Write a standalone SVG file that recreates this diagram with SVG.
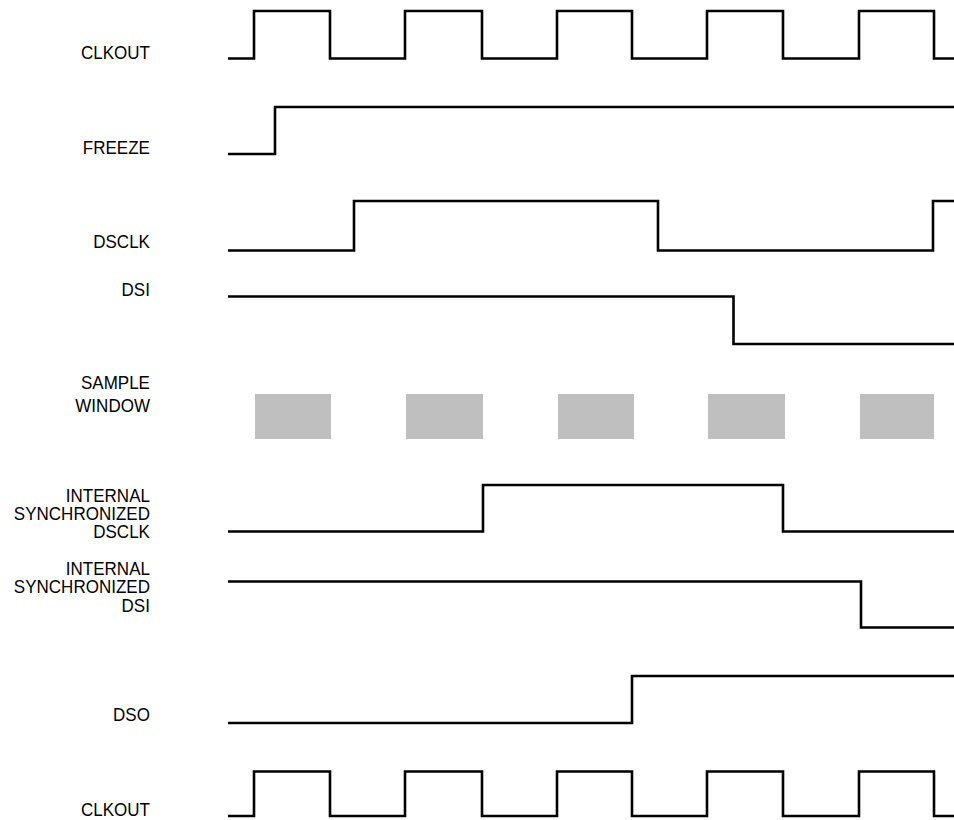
<svg xmlns="http://www.w3.org/2000/svg" width="954" height="820" viewBox="0 0 954 820">
<style>
.lbl{font-family:"Liberation Sans",Arial,sans-serif;font-size:18.5px;fill:#000;text-anchor:end}
.w{fill:none;stroke:#000;stroke-width:2.6;stroke-linejoin:miter;stroke-linecap:butt}
.win{fill:#bfbfbf}
</style>
<rect width="954" height="820" fill="#fff"/>
<g id="labels" transform="scale(0.92 1)">
<text class="lbl" x="163" y="59">CLKOUT</text>
<text class="lbl" x="163" y="154">FREEZE</text>
<text class="lbl" x="163" y="248">DSCLK</text>
<text class="lbl" x="163" y="296">DSI</text>
<text class="lbl" x="163" y="389">SAMPLE</text>
<text class="lbl" x="163" y="412">WINDOW</text>
<text class="lbl" x="163" y="502">INTERNAL</text>
<text class="lbl" x="163" y="520">SYNCHRONIZED</text>
<text class="lbl" x="163" y="538">DSCLK</text>
<text class="lbl" x="163" y="575">INTERNAL</text>
<text class="lbl" x="163" y="593.5">SYNCHRONIZED</text>
<text class="lbl" x="163" y="612">DSI</text>
<text class="lbl" x="163" y="721">DSO</text>
<text class="lbl" x="163" y="816">CLKOUT</text>
</g>
<g id="waveforms">
<path id="clkout-top" class="w" d="M228 58.5H254V11H330V58.5H405V11H482V58.5H557V11H632V58.5H707V11H783V58.5H859V11H934V58.5H954"/>
<path id="freeze" class="w" d="M228 154H275V107H954"/>
<path id="dsclk" class="w" d="M228 250.5H354V201H658V250.5H933V201H954"/>
<path id="dsi" class="w" d="M228 296.5H733.5V344H954"/>
<path id="int-dsclk" class="w" d="M228 531.5H483V485H783V531.5H954"/>
<path id="int-dsi" class="w" d="M228 581.5H861V627.5H954"/>
<path id="dso" class="w" d="M228 723H632V676H954"/>
<path id="clkout-bottom" class="w" d="M228 816H254V771.5H330V816H405V771.5H482V816H557V771.5H632V816H707V771.5H783V816H859V771.5H934V816H954"/>
</g>
<g id="sample-window">
<rect class="win" x="255" y="394" width="76" height="45"/>
<rect class="win" x="406" y="394" width="77" height="45"/>
<rect class="win" x="558" y="394" width="76" height="45"/>
<rect class="win" x="708" y="394" width="77" height="45"/>
<rect class="win" x="860" y="394" width="74" height="45"/>
</g>
</svg>
